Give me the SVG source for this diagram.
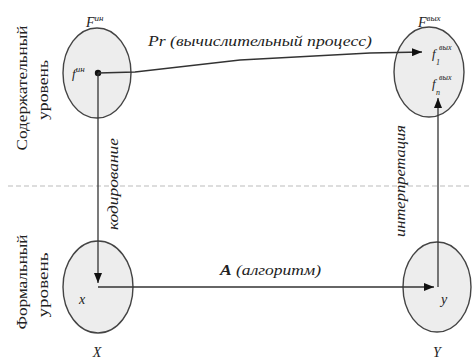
<svg xmlns="http://www.w3.org/2000/svg" width="473" height="360" viewBox="0 0 473 360">
<defs>
<marker id="ah" viewBox="0 0 10 8" refX="10" refY="4" markerWidth="10" markerHeight="8" markerUnits="userSpaceOnUse" orient="auto">
<path d="M0,0 L10,4 L0,8 Z" fill="#111"/>
</marker>
</defs>
<style>
.set{fill:#ededed;stroke:#444;stroke-width:1.4}
.con{fill:none;stroke:#333;stroke-width:1.3}
.t{font-family:"Liberation Serif","Times New Roman",serif;fill:#222}
.i{font-style:italic}
.lvl{font-family:"Liberation Serif","Times New Roman",serif;fill:#222;font-size:15px}
.sup{font-family:"Liberation Serif","Times New Roman",serif;fill:#222;font-style:italic;font-size:8px}
</style>
<rect width="473" height="360" fill="#fff"/>
<line x1="8" y1="186" x2="470" y2="186" stroke="#bbb" stroke-width="1" stroke-dasharray="5 3"/>

<g id="levels">
<text class="lvl" transform="translate(27,88) rotate(-90)" text-anchor="middle" textLength="125" lengthAdjust="spacingAndGlyphs">Содержательный</text>
<text class="lvl" transform="translate(48,90) rotate(-90)" text-anchor="middle" textLength="60" lengthAdjust="spacingAndGlyphs">уровень</text>
<text class="lvl" transform="translate(27,282) rotate(-90)" text-anchor="middle" textLength="95" lengthAdjust="spacingAndGlyphs">Формальный</text>
<text class="lvl" transform="translate(48,285) rotate(-90)" text-anchor="middle" textLength="65" lengthAdjust="spacingAndGlyphs">уровень</text>
</g>

<g id="Fin">
<ellipse class="set" cx="97" cy="73" rx="34" ry="45"/>
<text class="t i" x="86" y="27" font-size="14">F<tspan font-size="9" dy="-6">ин</tspan></text>
<text class="t i" x="72" y="78" font-size="13">f<tspan font-size="9" dy="-6">ин</tspan></text>
<circle cx="98" cy="73" r="3.2" fill="#111"/>
</g>

<g id="Fout">
<ellipse class="set" cx="429" cy="72" rx="35" ry="45"/>
<text class="t i" x="418" y="27" font-size="14">F<tspan font-size="9" dy="-6">вых</tspan></text>
<text class="t i" x="432" y="58" font-size="13">f</text>
<text class="sup" x="439" y="50">вых</text>
<text class="sup" x="436" y="65">1</text>
<text class="t i" x="432" y="88" font-size="13">f</text>
<text class="sup" x="439" y="80">вых</text>
<text class="sup" x="436" y="95">n</text>
</g>

<g id="X">
<ellipse class="set" cx="98" cy="287" rx="35" ry="46"/>
<text class="t i" x="79" y="304" font-size="14">x</text>
<text class="t i" x="97" y="357" font-size="14" text-anchor="middle">X</text>
</g>

<g id="Y">
<ellipse class="set" cx="437" cy="287" rx="34" ry="45"/>
<text class="t i" x="441" y="304" font-size="14">y</text>
<text class="t i" x="437" y="357" font-size="14" text-anchor="middle">Y</text>
</g>

<g id="connectors">
<path class="con" d="M98,73 L135,72 L240,60 L370,53 L422,52" marker-end="url(#ah)"/>
<path class="con" d="M98,73 L98,283" marker-end="url(#ah)"/>
<path class="con" d="M98,287 L434,287" marker-end="url(#ah)"/>
<path class="con" d="M438,287 L438,98" marker-end="url(#ah)"/>
</g>

<g id="labels">
<text class="t i" x="148" y="46" font-size="14" textLength="224" lengthAdjust="spacingAndGlyphs">Pr (вычислительный процесс)</text>
<text class="t i" x="220" y="275" font-size="14" textLength="101" lengthAdjust="spacingAndGlyphs"><tspan font-weight="bold">A</tspan> (алгоритм)</text>
<text class="t i" transform="translate(118,184) rotate(-90)" font-size="14" text-anchor="middle" textLength="92" lengthAdjust="spacingAndGlyphs">кодирование</text>
<text class="t i" transform="translate(405,181) rotate(-90)" font-size="14" text-anchor="middle" textLength="112" lengthAdjust="spacingAndGlyphs">интерпретация</text>
</g>
</svg>
